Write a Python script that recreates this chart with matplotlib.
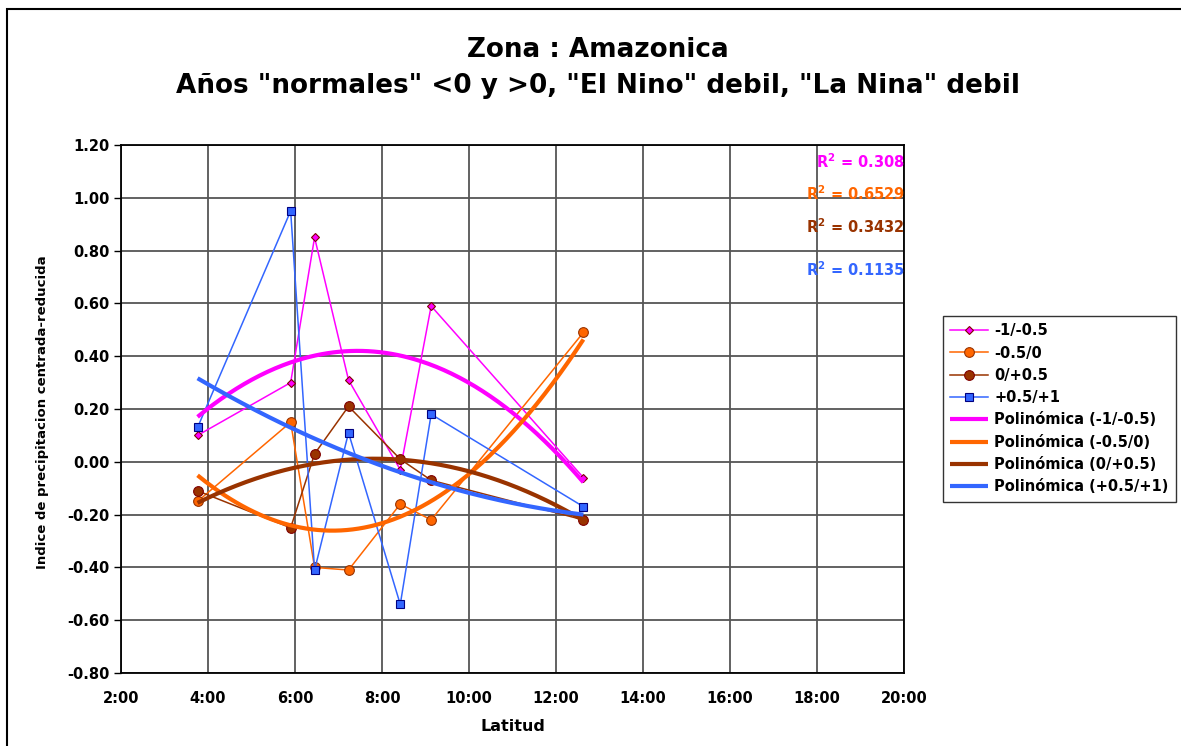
import numpy as np
import matplotlib
matplotlib.use("Agg")
import matplotlib.pyplot as plt
from matplotlib.ticker import FuncFormatter, MultipleLocator
from matplotlib.patches import Rectangle

plt.rcParams['font.family'] = ['DejaVu Sans']
plt.rcParams['font.weight'] = 'bold'

# Data (latitude expressed as hours on the time-formatted axis)
latitud = [3.76, 5.90, 6.45, 7.23, 8.42, 9.13, 12.63]
s_m1 = [0.10, 0.30, 0.85, 0.31, -0.03, 0.59, -0.06]      # -1/-0.5
s_m05 = [-0.15, 0.15, -0.40, -0.41, -0.16, -0.22, 0.49]  # -0.5/0
s_p05 = [-0.11, -0.25, 0.03, 0.21, 0.01, -0.07, -0.22]   # 0/+0.5
s_p1 = [0.13, 0.95, -0.41, 0.11, -0.54, 0.18, -0.17]     # +0.5/+1

series_names = ['-1/-0.5', '-0.5/0', '0/+0.5', '+0.5/+1']
r2_labels = ['0.308', '0.6529', '0.3432', '0.1135']

title_1 = 'Zona : Amazonica'
title_2 = 'Años "normales" <0 y >0, "El Nino" debil, "La Nina" debil'
xlabel = 'Latitud'
ylabel = 'Indice de precipitacion centrada-reducida'

colors = ['#FF00FF', '#FF6600', '#993300', '#3366FF']
markers = ['D', 'o', 'o', 's']
msizes = [4.5, 7, 7, 6]
mfaces = ['#FF00FF', '#FF6600', '#993300', '#3366FF']
medges = ['#800000', '#993300', '#800000', '#000080']

fig = plt.figure(figsize=(11.81, 7.46), dpi=100)
W, H = 1181, 746
ax = fig.add_axes([121 / W, 1 - 673 / H, (904 - 121) / W, (673 - 145) / H])

# outer chart border
fig.patches.append(Rectangle((7 / W, -0.01), 1.2, 1 - 9 / H + 0.01, transform=fig.transFigure,
                             fill=False, edgecolor='black', linewidth=1.5, zorder=0))

x = np.array(latitud)
data = [s_m1, s_m05, s_p05, s_p1]
handles = []
for i, ys in enumerate(data):
    ln, = ax.plot(x, ys, color=colors[i], lw=1.1, marker=markers[i], ms=msizes[i],
                  mfc=mfaces[i], mec=medges[i], mew=0.8, zorder=3, label=series_names[i])
    handles.append(ln)

xx = np.linspace(x.min(), x.max(), 200)
trend_handles = []
for i, ys in enumerate(data):
    c = np.polyfit(x, ys, 2)
    t, = ax.plot(xx, np.polyval(c, xx), color=colors[i], lw=3, zorder=4,
                 label='Polinómica (' + series_names[i] + ')', solid_capstyle='butt')
    trend_handles.append(t)

ax.set_xlim(2, 20)
ax.set_ylim(-0.8, 1.2)
ax.xaxis.set_major_locator(MultipleLocator(2))
ax.yaxis.set_major_locator(MultipleLocator(0.2))
ax.xaxis.set_major_formatter(FuncFormatter(lambda v, p: f"{int(round(v))}:00"))
ax.yaxis.set_major_formatter(FuncFormatter(lambda v, p: f"{v:.2f}"))
ax.grid(True, color='#555555', lw=1.3)
ax.set_axisbelow(True)
for sp in ax.spines.values():
    sp.set_linewidth(1.3)
    sp.set_color('black')
ax.tick_params(axis='x', length=0, pad=13, labelsize=10.5)
ax.tick_params(axis='y', length=5, width=1, direction='out', pad=3, labelsize=10.5)
for lab in ax.get_xticklabels() + ax.get_yticklabels():
    lab.set_fontweight('bold')

ax.set_xlabel(xlabel, fontsize=11.5, fontweight='bold', labelpad=9)
fig.text(43 / W, 1 - 412 / H, ylabel, rotation=90, ha='center', va='center',
         fontsize=9.5)

fig.text(0.506, 1 - 50 / H, title_1, ha='center', va='center', fontsize=18.9, fontweight='bold')
fig.text(0.506, 1 - 86 / H, title_2, ha='center', va='center', fontsize=18.9, fontweight='bold')

r2_y = [162, 194, 227, 270]
for i in range(4):
    fig.text(905 / W, 1 - r2_y[i] / H, 'R$^{\\mathbf{2}}$ = ' + r2_labels[i], ha='right', va='center',
             color=colors[i], fontsize=10.5, fontweight='bold')

leg = fig.legend(handles + trend_handles, [h.get_label() for h in handles + trend_handles],
                 loc='upper left', bbox_to_anchor=(943 / W, 1 - 316 / H), fontsize=10.5,
                 frameon=True, fancybox=False, edgecolor='black', handlelength=2.6,
                 handletextpad=0.4, labelspacing=0.5, borderpad=0.5, borderaxespad=0)
leg.get_frame().set_linewidth(1.0)
for t in leg.get_texts():
    t.set_fontweight('bold')

fig.savefig('out.png', dpi=100)
